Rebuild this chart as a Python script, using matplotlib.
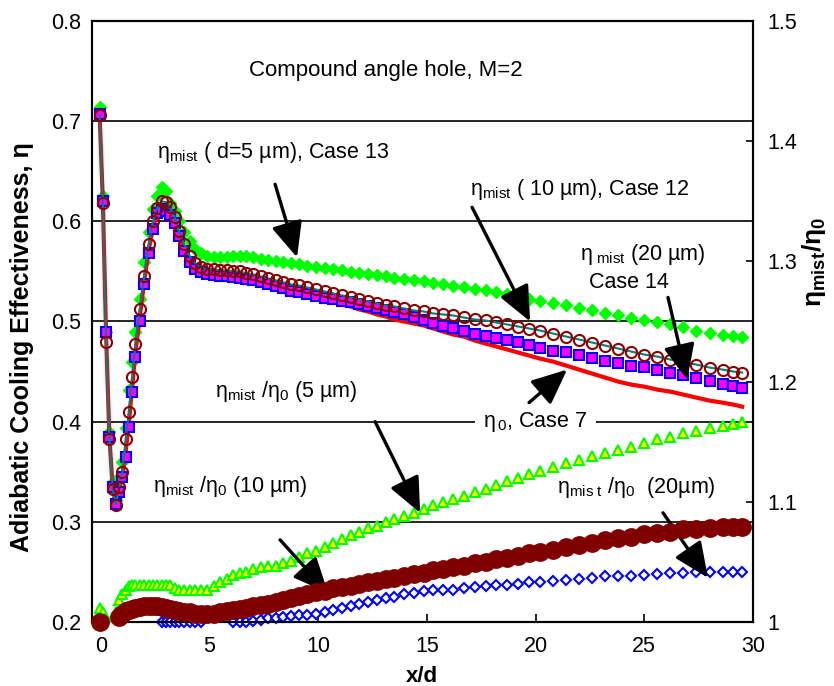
import matplotlib
matplotlib.use("Agg")
import matplotlib.pyplot as plt
import numpy as np

plt.rcParams['font.family'] = ['Liberation Sans', 'DejaVu Sans']
plt.rcParams['mathtext.fontset'] = 'custom'
plt.rcParams['mathtext.rm'] = 'Liberation Sans'
plt.rcParams['mathtext.it'] = 'Liberation Sans:italic'
plt.rcParams['mathtext.bf'] = 'Liberation Sans:bold'

nan = np.nan

# x/d positions (shared by all series)
x_d = [-0.05, 0.1, 0.25, 0.4, 0.55, 0.7, 0.85, 1.0, 1.15, 1.3,
       1.45, 1.6, 1.8, 2.0, 2.2, 2.4, 2.6, 2.8, 3.0, 3.2,
       3.4, 3.6, 3.85, 4.1, 4.35, 4.6, 4.9, 5.2, 5.5, 5.8,
       6.1, 6.4, 6.7, 7.0, 7.35, 7.7, 8.05, 8.4, 8.75, 9.1,
       9.5, 9.9, 10.3, 10.7, 11.1, 11.5, 11.9, 12.3, 12.7, 13.1,
       13.5, 13.95, 14.4, 14.85, 15.3, 15.75, 16.2, 16.7, 17.2, 17.7,
       18.2, 18.7, 19.2, 19.7, 20.2, 20.8, 21.4, 22.0, 22.6, 23.2,
       23.8, 24.4, 25.0, 25.6, 26.2, 26.8, 27.4, 28.0, 28.6, 29.1,
       29.5]

# eta_mist, d=5 um, Case 13
eta_case13 = [0.714, 0.625, 0.49, 0.39, 0.34, 0.322, 0.345, 0.36, 0.394, 0.432,
              0.46, 0.49, 0.522, 0.559, 0.589, 0.612, 0.625, 0.634, 0.63, 0.618,
              0.61, 0.6, 0.589, 0.58, 0.572, 0.568, 0.565, 0.564, 0.564, 0.564,
              0.565, 0.565, 0.565, 0.564, 0.562, 0.561, 0.56, 0.559, 0.558, 0.557,
              0.555, 0.554, 0.553, 0.552, 0.551, 0.549, 0.548, 0.547, 0.546, 0.545,
              0.543, 0.542, 0.541, 0.54, 0.538, 0.537, 0.535, 0.534, 0.532, 0.531,
              0.529, 0.527, 0.525, 0.522, 0.52, 0.518, 0.516, 0.513, 0.511, 0.508,
              0.506, 0.503, 0.501, 0.499, 0.497, 0.495, 0.491, 0.489, 0.487, 0.486,
              0.485]

# eta_mist, 10 um, Case 12
eta_case12 = [0.706, 0.618, 0.48, 0.383, 0.333, 0.317, 0.335, 0.35, 0.383, 0.41,
              0.445, 0.478, 0.512, 0.545, 0.577, 0.6, 0.613, 0.62, 0.619, 0.614,
              0.604, 0.59, 0.577, 0.565, 0.558, 0.554, 0.552, 0.552, 0.551, 0.551,
              0.55, 0.55, 0.548, 0.547, 0.545, 0.543, 0.541, 0.539, 0.537, 0.536,
              0.534, 0.532, 0.53, 0.528, 0.526, 0.524, 0.522, 0.52, 0.518, 0.516,
              0.515, 0.513, 0.511, 0.51, 0.508, 0.507, 0.506, 0.504, 0.502, 0.501,
              0.499, 0.497, 0.495, 0.493, 0.491, 0.488, 0.485, 0.482, 0.479, 0.476,
              0.473, 0.47, 0.467, 0.465, 0.462, 0.459, 0.457, 0.454, 0.452, 0.45,
              0.449]

# eta_mist, 20 um, Case 14
eta_case14 = [0.707, 0.62, 0.49, 0.385, 0.335, 0.318, 0.33, 0.345, 0.365, 0.395,
              0.43, 0.465, 0.5, 0.537, 0.568, 0.592, 0.608, 0.612, 0.61, 0.606,
              0.598, 0.585, 0.57, 0.559, 0.552, 0.549, 0.547, 0.546, 0.545, 0.545,
              0.544, 0.543, 0.542, 0.541, 0.539, 0.537, 0.535, 0.533, 0.53, 0.529,
              0.527, 0.525, 0.523, 0.522, 0.52, 0.519, 0.517, 0.515, 0.513, 0.511,
              0.509, 0.507, 0.504, 0.501, 0.498, 0.496, 0.494, 0.491, 0.488, 0.486,
              0.484, 0.482, 0.48, 0.477, 0.474, 0.471, 0.47, 0.467, 0.464, 0.461,
              0.459, 0.456, 0.455, 0.452, 0.449, 0.447, 0.444, 0.441, 0.438, 0.436,
              0.434]

# eta_0, Case 7 (no mist)
eta_case7 = [0.707, 0.62, 0.485, 0.385, 0.334, 0.318, 0.332, 0.347, 0.37, 0.4,
             0.435, 0.47, 0.505, 0.54, 0.57, 0.594, 0.608, 0.613, 0.611, 0.606,
             0.597, 0.585, 0.57, 0.56, 0.553, 0.549, 0.547, 0.545, 0.544, 0.543,
             0.542, 0.541, 0.54, 0.539, 0.537, 0.536, 0.534, 0.533, 0.531, 0.53,
             0.527, 0.525, 0.522, 0.52, 0.517, 0.515, 0.512, 0.51, 0.507, 0.505,
             0.502, 0.5, 0.498, 0.496, 0.493, 0.49, 0.487, 0.485, 0.481, 0.478,
             0.475, 0.472, 0.469, 0.466, 0.463, 0.46, 0.456, 0.452, 0.448, 0.444,
             0.44, 0.437, 0.435, 0.432, 0.43, 0.427, 0.424, 0.421, 0.419, 0.417,
             0.415]

# eta_mist / eta_0 ratios (right axis)
ratio_5um = [1.012, 1.008, 1.003, 1.0, 1.0, 1.008, 1.018, 1.023, 1.027, 1.03,
             1.031, 1.031, 1.031, 1.031, 1.031, 1.031, 1.031, 1.031, 1.031, 1.031,
             1.028, 1.027, 1.027, 1.027, 1.027, 1.027, 1.027, 1.03, 1.033, 1.036,
             1.039, 1.041, 1.042, 1.044, 1.046, 1.047, 1.047, 1.049, 1.051, 1.054,
             1.057, 1.059, 1.062, 1.066, 1.069, 1.072, 1.075, 1.078, 1.08, 1.083,
             1.086, 1.088, 1.091, 1.094, 1.097, 1.1, 1.102, 1.105, 1.108, 1.111,
             1.114, 1.117, 1.12, 1.123, 1.126, 1.129, 1.132, 1.135, 1.138, 1.141,
             1.143, 1.146, 1.149, 1.152, 1.154, 1.157, 1.159, 1.161, 1.163, 1.165,
             1.166]

ratio_10um = [1.0, nan, nan, nan, nan, nan, 1.004, 1.007, 1.009, 1.01,
              1.011, 1.012, 1.0125, 1.013, 1.013, 1.013, 1.013, 1.0125, 1.012, 1.011,
              1.01, 1.009, 1.008, 1.008, 1.007, 1.007, 1.007, 1.007, 1.008, 1.009,
              1.01, 1.011, 1.012, 1.013, 1.014, 1.015, 1.017, 1.018, 1.02, 1.022,
              1.0235, 1.025, 1.026, 1.028, 1.029, 1.03, 1.032, 1.033, 1.034, 1.036,
              1.037, 1.038, 1.04, 1.041, 1.043, 1.044, 1.046, 1.047, 1.049, 1.05,
              1.052, 1.053, 1.055, 1.057, 1.058, 1.06, 1.062, 1.064, 1.066, 1.068,
              1.07, 1.071, 1.073, 1.074, 1.075, 1.077, 1.077, 1.078, 1.079, 1.079,
              1.079]

ratio_20um = [nan, nan, nan, nan, nan, nan, nan, nan, nan, nan,
              nan, nan, nan, nan, nan, nan, nan, 1.0, 1.0, 1.0,
              1.0, 1.0, 1.0, 1.0, 1.0, 1.0, nan, nan, nan, nan,
              1.0, 1.0, 1.0, 1.001, 1.002, 1.003, 1.003, 1.004, 1.005, 1.006,
              1.006, 1.007, 1.008, 1.01, 1.012, 1.013, 1.015, 1.017, 1.018, 1.02,
              1.021, 1.023, 1.024, 1.026, 1.027, 1.027, 1.027, 1.028, 1.029, 1.03,
              1.031, 1.031, 1.032, 1.033, 1.033, 1.034, 1.035, 1.036, 1.037, 1.038,
              1.038, 1.038, 1.039, 1.04, 1.041, 1.041, 1.042, 1.042, 1.042, 1.042,
              1.042]

left_ticks = [0.2, 0.3, 0.4, 0.5, 0.6, 0.7, 0.8]
right_ticks = [1.0, 1.1, 1.2, 1.3, 1.4, 1.5]
right_labels = ["1", "1.1", "1.2", "1.3", "1.4", "1.5"]
x_ticks = [0, 5, 10, 15, 20, 25, 30]

fig = plt.figure(figsize=(8.34, 6.86), dpi=100)
ax = fig.add_axes([0.1103, 0.0933, 0.7926, 0.8761])

# horizontal grid lines
for yv in left_ticks[1:-1]:
    ax.axhline(yv, color='black', lw=1.2, zorder=0)

ax.plot(x_d, eta_case13, linestyle='none', marker='D', ms=6.5,
        color='#00ff00', zorder=2)
ax.plot(x_d, eta_case7, color='red', lw=3, zorder=3)
ax.plot(x_d, eta_case14, linestyle='none', marker='s', ms=7.5,
        mfc='#ff00ff', mec='blue', mew=1.5, zorder=4)
ax.plot(x_d, eta_case12, color='#008080', lw=1.5, marker='o', ms=8,
        mfc='none', mec='#8b0000', mew=1.5, zorder=5)

ax.set_xlim(-0.4, 30)
ax.set_ylim(0.2, 0.8)
ax.set_xticks(x_ticks)
ax.set_yticks(left_ticks)
ax.set_yticklabels([f"{v:.1f}" for v in left_ticks])
ax.tick_params(axis='x', direction='in', length=6, width=1.2,
               labelsize=15.5, pad=10)
ax.tick_params(axis='y', direction='in', length=0, labelsize=15.5, pad=8)
for sp in ax.spines.values():
    sp.set_linewidth(1.5)

ax2 = ax.twinx()
ax2.plot(x_d, ratio_5um, linestyle='none', marker='^', ms=7.5,
         mfc='yellow', mec='#00ff00', mew=1.5, zorder=3)
ax2.plot(x_d, ratio_10um, linestyle='none', marker='o', ms=12.5,
         color='#800000', zorder=4, clip_on=False)
ax2.plot(x_d, ratio_20um, linestyle='none', marker='D', ms=5.5,
         mfc='white', mec='blue', mew=1.5, zorder=2, clip_on=False)
ax2.set_ylim(1.0, 1.5)
ax2.set_yticks(right_ticks)
ax2.set_yticklabels(right_labels)
ax2.tick_params(axis='y', direction='in', length=5, width=1.2,
                labelsize=15.5, pad=10)
for sp in ax2.spines.values():
    sp.set_linewidth(1.5)

fs = 15.5
ax.text(0.444, 0.918, "Compound angle hole, M=2", transform=ax.transAxes,
        ha='center', va='center', fontsize=16)
ax.text(2.59, 0.669, r"η$_{\mathregular{mist}}$ ( d=5 µm), Case 13",
        fontsize=fs, va='center')
ax.text(16.99, 0.632, r"η$_{\mathregular{mist}}$ ( 10 µm), Case 12",
        fontsize=fs, va='center')
ax.text(22.05, 0.567, r"η$_{\mathregular{\ mist}}$ (20 µm)",
        fontsize=fs, va='center')
ax.text(22.46, 0.539, "Case 14", fontsize=fs, va='center')
ax.text(17.59, 0.4, r"η$_{\mathregular{\,0}}$, Case 7", fontsize=fs,
        va='center', zorder=6,
        bbox=dict(facecolor='white', edgecolor='none', pad=6))
ax.text(5.26, 0.43, r"η$_{\mathregular{mist}}$ /η$_{\mathregular{0}}$ (5 µm)",
        fontsize=fs, va='center')
ax.text(2.41, 0.335, r"η$_{\mathregular{mist}}$ /η$_{\mathregular{0}}$ (10 µm)",
        fontsize=fs, va='center')
ax.text(20.99, 0.334,
        r"η$_{\mathregular{mis\ t}}$ /η$_{\mathregular{0}}$  (20µm)",
        fontsize=fs, va='center')

arrows = [((8.02, 0.637), (9.03, 0.564)),
          ((17.08, 0.614), (19.75, 0.5)),
          ((26.09, 0.524), (26.97, 0.442)),
          ((19.7, 0.419), (21.45, 0.452)),
          ((12.62, 0.4), (14.69, 0.309)),
          ((8.25, 0.282), (10.46, 0.229)),
          ((25.86, 0.309), (27.93, 0.244))]
for start, end in arrows:
    ax2.annotate("", xy=end, xytext=start, xycoords=ax.transData,
                 textcoords=ax.transData,
                 arrowprops=dict(arrowstyle='-|>,head_length=0.9,head_width=0.4',
                                 color='black', lw=2.4, mutation_scale=24,
                                 shrinkA=0, shrinkB=0))

fig.text(0.026, 0.494, "Adiabatic Cooling Effectiveness, η", rotation=90,
         ha='center', va='center', fontsize=18, fontweight='bold')
fig.text(0.506, 0.014, "x/d", ha='center', va='center', fontsize=16,
         fontweight='bold')
fig.text(0.976, 0.618, r"η$_{\mathbf{mist}}$/η$_{\mathbf{0}}$", rotation=90,
         ha='center', va='center', fontsize=19, fontweight='bold')

fig.savefig("out.png", dpi=100)
